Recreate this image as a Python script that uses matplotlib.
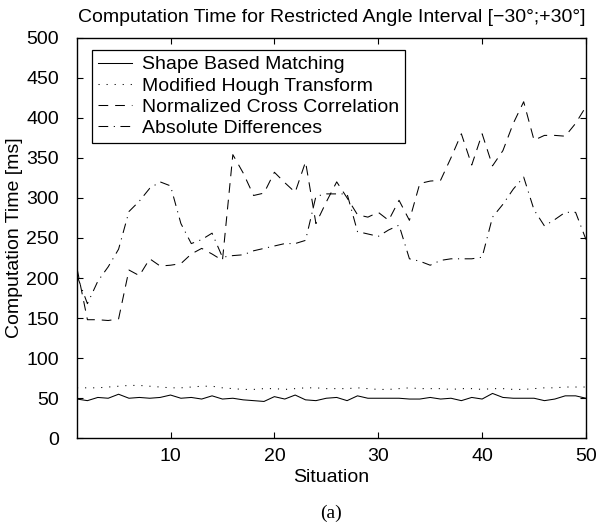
import numpy as np
import matplotlib
matplotlib.use("Agg")
import matplotlib.pyplot as plt

plt.rcParams["font.family"] = ["Liberation Sans", "DejaVu Sans"]
plt.rcParams["lines.scale_dashes"] = False

# values
situation = np.arange(1, 51)

shape_based = [49, 47, 51, 50, 55, 50, 51, 50, 51, 54,
               50, 51, 49, 53, 49, 50, 48, 47, 46, 52,
               49, 54, 48, 47, 50, 51, 47, 53, 50, 50,
               50, 50, 49, 49, 51, 49, 50, 47, 51, 49,
               56, 51, 50, 50, 50, 47, 49, 53, 53, 50]

hough = [63, 63, 63, 64, 65, 66, 66, 65, 64, 63,
         63, 64, 65, 65, 63, 62, 61, 61, 62, 62,
         61, 62, 63, 63, 62, 62, 62, 63, 62, 61,
         61, 62, 63, 62, 62, 62, 61, 62, 62, 61,
         62, 62, 61, 61, 62, 63, 63, 64, 64, 64]

ncc = [212, 148, 148, 147, 149, 210, 203, 224, 215, 216,
       218, 230, 237, 230, 222, 354, 331, 303, 306, 332,
       319, 307, 345, 268, 295, 320, 300, 279, 276, 282,
       272, 297, 272, 318, 321, 322, 350, 380, 341, 380,
       340, 359, 393, 420, 372, 378, 378, 377, 393, 414]

abs_diff = [203, 168, 196, 214, 236, 283, 296, 312, 320, 315,
            268, 243, 248, 256, 226, 228, 229, 234, 237, 240,
            243, 243, 247, 302, 305, 305, 305, 258, 255, 252,
            260, 266, 224, 221, 216, 222, 224, 224, 224, 226,
            276, 292, 311, 326, 285, 265, 273, 282, 282, 248]

labels = ["Shape Based Matching", "Modified Hough Transform",
          "Normalized Cross Correlation", "Absolute Differences"]

fs = 14

fig = plt.figure(figsize=(6.07, 5.3), dpi=100)
ax = fig.add_axes([0.1269, 0.173, 0.8385, 0.756])

lw = 0.75
ax.plot(situation, shape_based, color="black", lw=lw, linestyle="-", label=labels[0])
ax.plot(situation, hough, color="black", lw=lw, linestyle=(0, (0.8, 5.0)), label=labels[1])
ax.plot(situation, ncc, color="black", lw=lw, linestyle=(0, (7.0, 5.0)), label=labels[2])
ax.plot(situation, abs_diff, color="black", lw=lw, linestyle=(0, (7.0, 4.0, 0.8, 4.0)), label=labels[3])

ax.set_xlim(1, 50)
ax.set_ylim(0, 500)
ax.set_xticks([10, 20, 30, 40, 50])
ax.set_yticks(np.arange(0, 501, 50))
ax.tick_params(direction="in", top=True, right=True, length=4, width=0.8, labelsize=fs)
ax.tick_params(axis="x", pad=7)
ax.tick_params(axis="y", pad=13)
for sp in ax.spines.values():
    sp.set_linewidth(1.0)

ax.set_title("Computation Time for Restricted Angle Interval [\u221230\u00b0;+30\u00b0]",
             fontsize=fs, pad=11)
ax.set_xlabel("Situation", fontsize=fs, labelpad=3)
ax.set_ylabel("Computation Time [ms]", fontsize=fs, labelpad=2)

leg = ax.legend(loc="upper left", bbox_to_anchor=(0.029, 0.969), borderaxespad=0,
                fontsize=fs, fancybox=False, framealpha=1, edgecolor="black",
                handlelength=1.75, handletextpad=0.55, labelspacing=0.18, borderpad=0.3)
leg.get_frame().set_linewidth(0.9)

fig.text(0.545, 0.032, "(a)", fontsize=14, family=["Liberation Serif", "DejaVu Serif"],
         ha="center", va="center")

fig.savefig("out.png", dpi=100)
